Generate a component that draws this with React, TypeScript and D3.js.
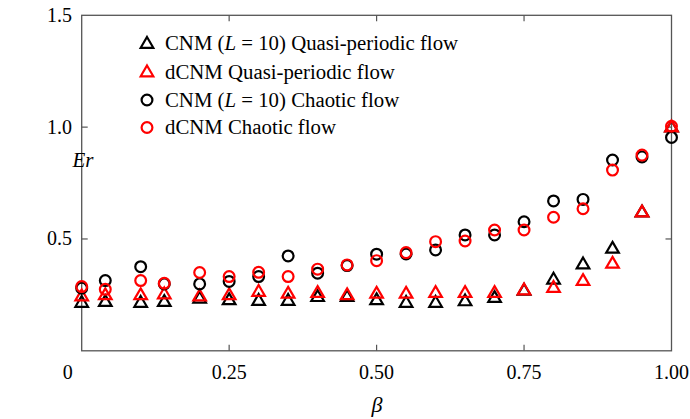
import React from "react";
import * as d3 from "d3";

const betas = [0, 0.04, 0.1, 0.14, 0.2, 0.25, 0.3, 0.35, 0.4, 0.45, 0.5, 0.55, 0.6, 0.65, 0.7, 0.75, 0.8, 0.85, 0.9, 0.95, 1.0];
const cnmQuasi = [0.216, 0.22, 0.216, 0.22, 0.235, 0.228, 0.225, 0.225, 0.242, 0.242, 0.228, 0.216, 0.216, 0.223, 0.238, 0.27, 0.32, 0.388, 0.458, 0.62, 1.0];
const dcnmQuasi = [0.245, 0.25, 0.25, 0.254, 0.245, 0.25, 0.265, 0.257, 0.26, 0.25, 0.257, 0.257, 0.26, 0.26, 0.26, 0.272, 0.283, 0.314, 0.391, 0.62, 1.0];
const cnmChaotic = [0.28, 0.314, 0.376, 0.299, 0.299, 0.31, 0.332, 0.424, 0.347, 0.381, 0.432, 0.433, 0.451, 0.518, 0.518, 0.577, 0.67, 0.677, 0.853, 0.867, 0.954];
const dcnmChaotic = [0.287, 0.275, 0.314, 0.302, 0.35, 0.332, 0.351, 0.332, 0.365, 0.384, 0.403, 0.439, 0.488, 0.491, 0.54, 0.54, 0.597, 0.635, 0.808, 0.875, 1.004];

const xTicks = [0, 0.25, 0.5, 0.75, 1.0];
const xTickLabels = ["0", "0.25", "0.50", "0.75", "1.00"];
const yTicks = [0.5, 1.0, 1.5];
const yTickLabels = ["0.5", "1.0", "1.5"];

const seriesNames = ["CNM (L = 10) Quasi-periodic flow", "dCNM Quasi-periodic flow", "CNM (L = 10) Chaotic flow", "dCNM Chaotic flow"];

const W = 690, H = 419;
const left = 81.7, right = 671.5, top = 15.3, bottom = 350.8;
const FONT = "'Liberation Serif', 'Times New Roman', serif";

const x = d3.scaleLinear().domain([0, 1]).range([left, right]);
const y = d3.scaleLinear().domain([0, 1.5]).range([bottom, top]);

function triPath(cx: number, cy: number) {
  const hw = 6.3, h = 10.8;
  return `M${cx},${cy - h * 0.6}L${cx + hw},${cy + h * 0.4}L${cx - hw},${cy + h * 0.4}Z`;
}

type Series = { vals: number[]; color: string; shape: "tri" | "circ" };
const series: Series[] = [
  { vals: cnmQuasi, color: "#000", shape: "tri" },
  { vals: dcnmQuasi, color: "#ff0000", shape: "tri" },
  { vals: cnmChaotic, color: "#000", shape: "circ" },
  { vals: dcnmChaotic, color: "#ff0000", shape: "circ" },
];

function Marker({ cx, cy, s }: { cx: number; cy: number; s: Series }) {
  if (s.shape === "tri")
    return <path d={triPath(cx, cy)} fill="none" stroke={s.color} strokeWidth={2.2} strokeLinejoin="miter" />;
  return <circle cx={cx} cy={cy} r={5.4} fill="none" stroke={s.color} strokeWidth={2.2} />;
}

function LegendLabel({ text }: { text: string }) {
  const m = text.match(/^(.*\()L( = 10\).*)$/);
  if (m) {
    return (
      <>
        <tspan>{m[1]}</tspan>
        <tspan fontStyle="italic">L</tspan>
        <tspan>{m[2]}</tspan>
      </>
    );
  }
  return <tspan>{text}</tspan>;
}

export default function App() {
  const axisColor = "#555";
  const tickLen = 6;
  const legendY = [43.5, 72, 100, 127.5];
  return (
    <svg width={W} height={H} style={{ position: "absolute", left: 0, top: 0, background: "#fff" }}>
      <rect x={0} y={0} width={W} height={H} fill="#fff" />
      <rect x={left} y={top} width={right - left} height={bottom - top} fill="none" stroke={axisColor} strokeWidth={1.3} />
      {xTicks.map((t, i) => (
        <g key={"xt" + i}>
          {t > 0 && t < 1 && (
            <>
              <line x1={x(t)} x2={x(t)} y1={bottom} y2={bottom - tickLen} stroke={axisColor} strokeWidth={1.2} />
              <line x1={x(t)} x2={x(t)} y1={top} y2={top + tickLen} stroke={axisColor} strokeWidth={1.2} />
            </>
          )}
          <text
            x={t === 0 ? x(t) - 14 : x(t)}
            y={378.5}
            textAnchor="middle"
            fontFamily={FONT}
            fontSize={20}
            fill="#000"
          >
            {xTickLabels[i]}
          </text>
        </g>
      ))}
      {yTicks.map((t, i) => (
        <g key={"yt" + i}>
          {t < 1.5 && (
            <>
              <line x1={left} x2={left + tickLen} y1={y(t)} y2={y(t)} stroke={axisColor} strokeWidth={1.2} />
              <line x1={right} x2={right - tickLen} y1={y(t)} y2={y(t)} stroke={axisColor} strokeWidth={1.2} />
            </>
          )}
          <text x={72} y={y(t) + 6.5} textAnchor="end" fontFamily={FONT} fontSize={20} fill="#000">
            {yTickLabels[i]}
          </text>
        </g>
      ))}
      <text x={83} y={167} textAnchor="middle" fontFamily={FONT} fontSize={21} fontStyle="italic" fill="#000">
        Er
      </text>
      <text x={377} y={412} textAnchor="middle" fontFamily={FONT} fontSize={22} fontStyle="italic" fill="#000">
        β
      </text>
      {series.map((s, si) => (
        <g key={"s" + si}>
          {s.vals.map((v, i) => (
            <Marker key={i} cx={x(betas[i])} cy={y(v)} s={s} />
          ))}
        </g>
      ))}
      {series.map((s, si) => (
        <g key={"lg" + si}>
          <Marker cx={147} cy={legendY[si]} s={s} />
          <text x={165} y={legendY[si] + 6.5} fontFamily={FONT} fontSize={20.8} fill="#000">
            <LegendLabel text={seriesNames[si]} />
          </text>
        </g>
      ))}
    </svg>
  );
}
